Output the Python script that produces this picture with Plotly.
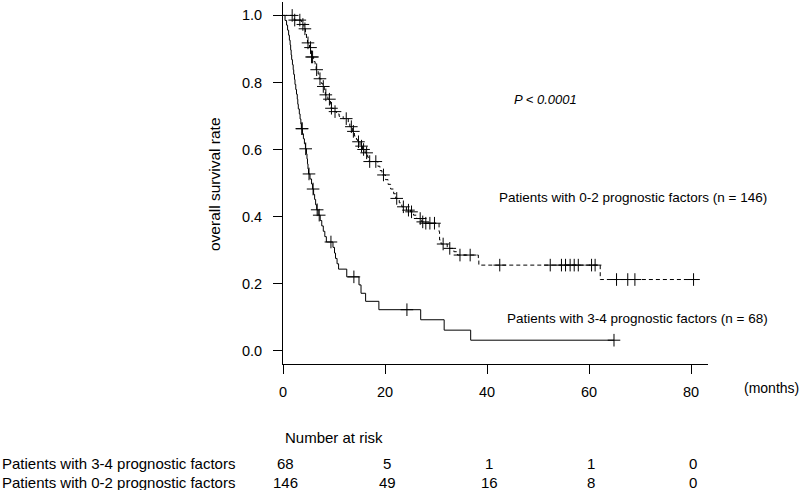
import numpy as np
import plotly.graph_objects as go

# ---------------- data ----------------
# Patients with 3-4 prognostic factors (solid): step times (months) and survival after each step
solid_times = [0, 0.4, 0.7, 0.9, 1.1, 1.25, 1.4, 1.5, 1.6, 1.7, 1.85, 2.0, 2.1, 2.25, 2.35, 2.5, 2.65,
               2.8, 2.9, 3.0, 3.2, 3.35, 3.5, 3.6, 3.8, 4.0, 4.2, 4.4, 4.6, 4.7, 4.8, 4.9, 5.0, 5.3,
               5.6, 5.8, 6.0, 6.2, 6.4, 6.6, 6.9, 7.3, 7.6, 7.9, 8.2, 8.5, 9.8, 10.1, 10.3, 10.6,
               10.9, 12.5, 14.9, 15.3, 16.2, 18.8, 27.0, 31.6, 36.8, 64.9]
solid_surv = [1.0, .985, .971, .956, .941, .926, .912, .897, .882, .868, .853, .838, .824, .809, .794,
              .779, .765, .750, .735, .721, .706, .691, .676, .662, .647, .632, .617, .602, .587, .572,
              .557, .542, .527, .512, .497, .482, .466, .451, .435, .420, .404, .388, .372, .356, .340,
              .324, .308, .291, .275, .259, .243, .220, .196, .171, .147, .122, .092, .061, .031, .031]
solid_censor = [3.7, 3.75, 4.45, 5.1, 5.9, 6.7, 7.1, 9.4, 13.9, 24.3, 64.9]

# Patients with 0-2 prognostic factors (dashed)
dash_times = [0, 2.0, 2.2, 3.6, 4.1, 4.4, 4.6, 4.8, 5.2, 5.5, 5.55, 6.0, 6.3, 6.5, 6.9, 7.1, 7.5, 7.8,
              8.1, 8.3, 8.8, 9.3, 9.4, 9.9, 10.5, 11.0, 11.8, 12.8, 13.1, 13.6, 14.0, 14.4, 14.6, 15.1,
              15.6, 16.1, 16.6, 16.9, 18.6, 19.0, 19.4, 20.1, 20.6, 21.1, 21.7, 22.1, 22.8, 23.3, 24.2,
              25.0, 25.6, 26.2, 27.2, 27.8, 30.6, 30.7, 31.0, 32.2, 33.5, 34.2, 38.3, 38.4, 62.2, 80.5]
dash_surv = [1.0, .993, .986, .973, .960, .946, .932, .918, .904, .890, .876, .862, .848, .838, .825,
             .811, .797, .788, .775, .763, .750, .737, .723, .713, .706, .699, .692, .678, .668, .654,
             .640, .630, .623, .610, .600, .590, .577, .564, .550, .537, .524, .510, .496, .482, .468,
             .454, .441, .429, .419, .414, .404, .394, .384, .380, .355, .330, .318, .305, .295, .285,
             .270, .255, .212, .212]
dash_censor = [1.8, 2.3, 3.3, 3.9, 4.3, 4.9, 5.4, 5.6, 5.8, 6.6, 7.25, 7.9, 8.4, 9.1, 9.5, 10.2, 12.4,
               13.4, 13.8, 14.8, 15.4, 15.8, 16.4, 17.0, 18.2, 19.7, 22.3, 23.6, 24.6, 25.2, 26.9,
               27.4, 28.0, 28.8, 29.7, 31.4, 32.7, 34.7, 36.7, 42.5, 52.4, 54.6, 55.4, 56.3, 57.1,
               57.9, 60.5, 61.2, 65.4, 67.6, 69.0, 80.5]

x_ticks = [0, 20, 40, 60, 80]
y_ticks = [0.0, 0.2, 0.4, 0.6, 0.8, 1.0]
risk_labels = ["Patients with 3-4 prognostic factors", "Patients with 0-2 prognostic factors"]
risk_34 = [68, 5, 1, 1, 0]
risk_02 = [146, 49, 16, 8, 0]


def surv_at(times, surv, t):
    idx = np.searchsorted(np.array(times), np.array(t), side="right") - 1
    return np.array(surv)[idx]


# ---------------- layout geometry (pixels) ----------------
W, H = 800, 490
L, R, T, B = 283, 708, 2, 364


def px(xp):
    return (xp - L) / (R - L)


def py(yp):
    return (B - yp) / (B - T)


FONT = "Liberation Sans, Arial, sans-serif"

fig = go.Figure()
fig.add_trace(go.Scatter(x=solid_times, y=solid_surv, mode="lines", line=dict(shape="hv", color="black", width=1),
                         showlegend=False, hoverinfo="skip"))
fig.add_trace(go.Scatter(x=dash_times, y=dash_surv, mode="lines",
                         line=dict(shape="hv", color="black", width=1, dash="4px,3px"),
                         showlegend=False, hoverinfo="skip"))
fig.add_trace(go.Scatter(x=solid_censor, y=surv_at(solid_times, solid_surv, solid_censor), mode="markers",
                         marker=dict(symbol="cross-thin", size=9, line=dict(width=1, color="black")),
                         showlegend=False, hoverinfo="skip", cliponaxis=False))
fig.add_trace(go.Scatter(x=dash_censor, y=surv_at(dash_times, dash_surv, dash_censor), mode="markers",
                         marker=dict(symbol="cross-thin", size=9, line=dict(width=1, color="black")),
                         showlegend=False, hoverinfo="skip", cliponaxis=False))

ann = []
ann.append(dict(text="<i>P &lt; 0.0001</i>", x=px(512), y=py(100), xref="paper", yref="paper",
                xanchor="left", yanchor="middle", showarrow=False, font=dict(family=FONT, size=13, color="black")))
ann.append(dict(text="Patients with 0-2 prognostic factors (n = 146)", x=px(497), y=py(197), xref="paper",
                yref="paper", xanchor="left", yanchor="middle", showarrow=False,
                font=dict(family=FONT, size=13.5, color="black")))
ann.append(dict(text="Patients with 3-4 prognostic factors (n = 68)", x=px(505), y=py(318), xref="paper",
                yref="paper", xanchor="left", yanchor="middle", showarrow=False,
                font=dict(family=FONT, size=13.5, color="black")))
ann.append(dict(text="(months)", x=px(742), y=py(388), xref="paper", yref="paper", xanchor="left",
                yanchor="middle", showarrow=False, font=dict(family=FONT, size=14, color="black")))
ann.append(dict(text="overall survival rate", x=px(215), y=py(184), xref="paper", yref="paper",
                xanchor="center", yanchor="middle", textangle=-90, showarrow=False,
                font=dict(family=FONT, size=15.5, color="black")))
ann.append(dict(text="Number at risk", x=px(283), y=py(437), xref="paper", yref="paper", xanchor="left",
                yanchor="middle", showarrow=False, font=dict(family=FONT, size=15, color="black")))
for lab, yy in zip(risk_labels, [463, 482]):
    ann.append(dict(text=lab, x=px(0), y=py(yy), xref="paper", yref="paper", xanchor="left",
                    yanchor="middle", showarrow=False, font=dict(family=FONT, size=15, color="black")))
for row, yy in zip([risk_34, risk_02], [463, 482]):
    for xv, n in zip(x_ticks, row):
        ann.append(dict(text=str(n), x=xv, y=py(yy), xref="x", yref="paper", xanchor="center",
                        yanchor="middle", xshift=2, showarrow=False,
                        font=dict(family=FONT, size=15, color="black")))

fig.update_layout(
    width=W, height=H,
    margin=dict(l=L, r=W - R, t=T, b=H - B, pad=0),
    paper_bgcolor="white", plot_bgcolor="white",
    annotations=ann,
    xaxis=dict(range=[0, (R - L) / 5.1], tickvals=x_ticks, ticktext=[str(v) for v in x_ticks],
               showline=True, linecolor="black", linewidth=1, ticks="outside", ticklen=9, tickwidth=1,
               tickcolor="black", showgrid=False, zeroline=False,
               tickfont=dict(family=FONT, size=14.5, color="black"), ticklabelstandoff=6),
    yaxis=dict(range=[-0.04, 1.04], tickvals=y_ticks, ticktext=["%.1f" % v for v in y_ticks],
               showline=True, linecolor="black", linewidth=1, ticks="outside", ticklen=9, tickwidth=1,
               tickcolor="black", showgrid=False, zeroline=False,
               tickfont=dict(family=FONT, size=14.5, color="black"), ticklabelstandoff=8),
)

fig.write_html("out.html", config={"displayModeBar": False},
               post_script="document.body.style.margin='0';document.body.style.overflow='hidden';")
